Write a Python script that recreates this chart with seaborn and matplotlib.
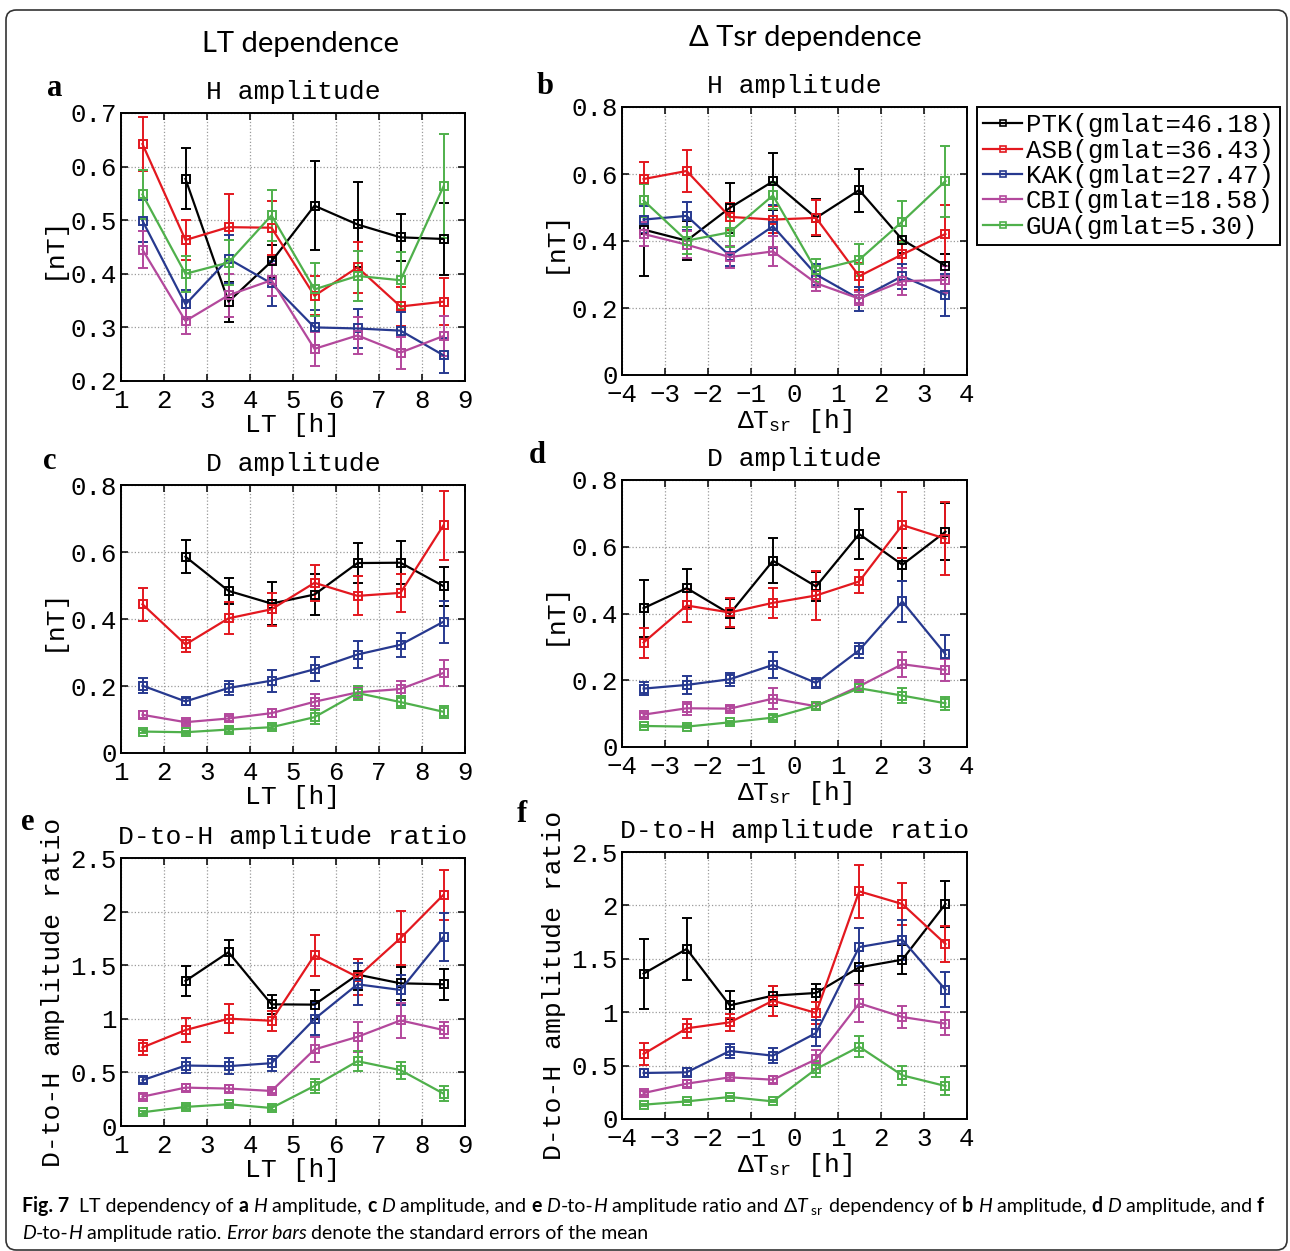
"""
Fig. 7: LT and Delta-Tsr dependence of H / D amplitudes and D-to-H ratio
at five stations (values read from the published figure).
"""
import matplotlib
matplotlib.use("Agg")
import matplotlib.pyplot as plt
from matplotlib.lines import Line2D
from matplotlib.patches import FancyBboxPatch
import numpy as np
import pandas as pd
import seaborn as sns

STATIONS = ["PTK", "ASB", "KAK", "CBI", "GUA"]
GMLAT = ["46.18", "36.43", "27.47", "18.58", "5.30"]
COLORS = ["#000000", "#e3181f", "#27398f", "#b3489c", "#4fb04b"]

LT = [1.5, 2.5, 3.5, 4.5, 5.5, 6.5, 7.5, 8.5]
DT = [-3.5, -2.5, -1.5, -0.5, 0.5, 1.5, 2.5, 3.5]
NA = np.nan

# a: H amplitude vs LT
H_LT = [[NA, 0.577, 0.348, 0.423, 0.527, 0.492, 0.468, 0.465],
        [0.642, 0.463, 0.487, 0.486, 0.359, 0.412, 0.339, 0.348],
        [0.499, 0.343, 0.428, 0.382, 0.300, 0.298, 0.294, 0.248],
        [0.445, 0.312, 0.360, 0.388, 0.260, 0.285, 0.253, 0.284],
        [0.548, 0.400, 0.421, 0.509, 0.371, 0.396, 0.388, 0.563]]
H_LT_ERR = [[NA, 0.057, 0.037, 0.030, 0.083, 0.080, 0.044, 0.067],
            [0.050, 0.037, 0.062, 0.050, 0.036, 0.048, 0.037, 0.044],
            [0.039, 0.027, 0.045, 0.042, 0.032, 0.037, 0.035, 0.033],
            [0.035, 0.024, 0.040, 0.030, 0.032, 0.034, 0.030, 0.038],
            [0.046, 0.034, 0.042, 0.048, 0.050, 0.047, 0.053, 0.097]]

# b: H amplitude vs dTsr
H_DT = [[0.434, 0.401, 0.499, 0.578, 0.469, 0.552, 0.404, 0.326],
        [0.585, 0.609, 0.472, 0.464, 0.469, 0.295, 0.360, 0.421],
        [0.464, 0.475, 0.356, 0.444, 0.300, 0.227, 0.295, 0.239],
        [0.421, 0.389, 0.352, 0.369, 0.274, 0.228, 0.280, 0.284],
        [0.521, 0.401, 0.426, 0.536, 0.312, 0.344, 0.458, 0.579]]
H_DT_ERR = [[0.137, 0.058, 0.074, 0.085, 0.055, 0.064, 0.040, 0.034],
            [0.052, 0.062, 0.040, 0.040, 0.052, 0.040, 0.040, 0.085],
            [0.040, 0.042, 0.030, 0.064, 0.030, 0.035, 0.037, 0.062],
            [0.035, 0.040, 0.033, 0.045, 0.022, 0.020, 0.040, 0.040],
            [0.050, 0.040, 0.045, 0.040, 0.034, 0.048, 0.060, 0.106]]

# c: D amplitude vs LT
D_LT = [[NA, 0.586, 0.484, 0.446, 0.473, 0.567, 0.568, 0.498],
        [0.444, 0.324, 0.402, 0.429, 0.508, 0.469, 0.478, 0.680],
        [0.201, 0.154, 0.194, 0.216, 0.250, 0.294, 0.323, 0.392],
        [0.114, 0.092, 0.103, 0.119, 0.153, 0.181, 0.191, 0.239],
        [0.064, 0.062, 0.070, 0.077, 0.107, 0.179, 0.152, 0.123]]
D_LT_ERR = [[NA, 0.050, 0.038, 0.065, 0.062, 0.060, 0.064, 0.058],
            [0.050, 0.022, 0.048, 0.050, 0.054, 0.058, 0.057, 0.103],
            [0.023, 0.010, 0.022, 0.033, 0.036, 0.041, 0.036, 0.063],
            [0.010, 0.006, 0.008, 0.012, 0.023, 0.020, 0.025, 0.038],
            [0.005, 0.005, 0.006, 0.006, 0.020, 0.020, 0.018, 0.018]]

# d: D amplitude vs dTsr
D_DT = [[0.416, 0.476, 0.399, 0.558, 0.481, 0.638, 0.546, 0.645],
        [0.313, 0.424, 0.403, 0.432, 0.454, 0.496, 0.665, 0.624],
        [0.175, 0.186, 0.203, 0.246, 0.192, 0.290, 0.436, 0.278],
        [0.097, 0.116, 0.115, 0.145, 0.122, 0.182, 0.248, 0.231],
        [0.063, 0.061, 0.074, 0.088, 0.124, 0.176, 0.154, 0.131]]
D_DT_ERR = [[0.085, 0.058, 0.043, 0.068, 0.044, 0.074, 0.050, 0.085],
            [0.045, 0.050, 0.044, 0.044, 0.072, 0.035, 0.100, 0.109],
            [0.020, 0.026, 0.020, 0.040, 0.015, 0.022, 0.060, 0.059],
            [0.006, 0.019, 0.008, 0.032, 0.010, 0.018, 0.038, 0.034],
            [0.004, 0.004, 0.005, 0.008, 0.010, 0.012, 0.022, 0.019]]

# e: D-to-H ratio vs LT
R_LT = [[NA, 1.353, 1.621, 1.135, 1.132, 1.412, 1.331, 1.322],
        [0.733, 0.895, 1.001, 0.982, 1.593, 1.390, 1.752, 2.157],
        [0.427, 0.564, 0.558, 0.586, 0.998, 1.322, 1.269, 1.764],
        [0.274, 0.358, 0.349, 0.327, 0.714, 0.832, 0.985, 0.895],
        [0.128, 0.178, 0.203, 0.168, 0.374, 0.605, 0.521, 0.302]]
R_LT_ERR = [[NA, 0.143, 0.118, 0.087, 0.134, 0.147, 0.156, 0.146],
            [0.068, 0.109, 0.134, 0.093, 0.190, 0.170, 0.250, 0.234],
            [0.030, 0.070, 0.072, 0.069, 0.150, 0.196, 0.140, 0.222],
            [0.020, 0.030, 0.030, 0.020, 0.118, 0.141, 0.165, 0.078],
            [0.015, 0.015, 0.015, 0.015, 0.066, 0.096, 0.078, 0.072]]

# f: D-to-H ratio vs dTsr
R_DT = [[1.361, 1.592, 1.064, 1.155, 1.180, 1.420, 1.492, 2.013],
        [0.609, 0.849, 0.905, 1.108, 0.993, 2.132, 2.013, 1.639],
        [0.431, 0.437, 0.637, 0.593, 0.805, 1.610, 1.679, 1.211],
        [0.243, 0.331, 0.390, 0.368, 0.559, 1.083, 0.955, 0.893],
        [0.134, 0.165, 0.206, 0.165, 0.468, 0.677, 0.409, 0.309]]
R_DT_ERR = [[0.328, 0.290, 0.131, 0.093, 0.087, 0.153, 0.134, 0.219],
            [0.106, 0.090, 0.078, 0.140, 0.100, 0.250, 0.197, 0.171],
            [0.040, 0.040, 0.068, 0.069, 0.120, 0.178, 0.187, 0.162],
            [0.020, 0.030, 0.025, 0.030, 0.090, 0.175, 0.100, 0.109],
            [0.010, 0.010, 0.010, 0.010, 0.072, 0.097, 0.087, 0.081]]

MONO = "Liberation Mono"
plt.rcParams["mathtext.fontset"] = "custom"
plt.rcParams["mathtext.rm"] = "Lato"
plt.rcParams["mathtext.it"] = "Lato:italic"
plt.rcParams["mathtext.bf"] = "Lato:bold"
plt.rcParams["mathtext.tt"] = MONO

W, H = 1290, 1251
fig = plt.figure(figsize=(W / 100, H / 100), dpi=100)
fig.patch.set_facecolor("white")


def px_rect(l, t, r, b):
    return [l / W, 1 - b / H, (r - l) / W, (b - t) / H]


def fmt_tick(v):
    return f"{v:g}".replace("-", "\u2212")


def panel(rect, xs, vals, errs, xlim, ylim, yticks, title, xlabel, ylabel):
    ax = fig.add_axes(px_rect(*rect))
    rows = []
    for st, yv, ev in zip(STATIONS, vals, errs):
        for x, y, e in zip(xs, yv, ev):
            if not np.isnan(y):
                rows.append({"station": st, "x": x, "y": y, "err": e})
    df = pd.DataFrame(rows)

    sns.lineplot(data=df, x="x", y="y", hue="station", hue_order=STATIONS,
                 palette=COLORS, marker="s", markersize=5.5, linewidth=1.6,
                 estimator=None, sort=False, legend=False, ax=ax, zorder=3)
    for line in ax.lines:
        line.set_markeredgecolor(line.get_color())
        line.set_markerfacecolor("none")
        line.set_markeredgewidth(1.4)

    for i, st in enumerate(STATIONS):
        sub = df[df["station"] == st]
        ax.errorbar(sub["x"], sub["y"], yerr=sub["err"], fmt="none",
                    ecolor=COLORS[i], elinewidth=1.4, capsize=3.5,
                    capthick=1.4, zorder=2)

    ax.set_xlim(*xlim)
    ax.set_ylim(*ylim)
    xt = np.arange(xlim[0], xlim[1] + 1, 1)
    ax.set_xticks(xt)
    ax.set_xticklabels([fmt_tick(v) for v in xt])
    ax.set_yticks(yticks)
    ax.set_yticklabels([fmt_tick(v) for v in yticks])
    for lab in ax.get_xticklabels() + ax.get_yticklabels():
        lab.set_fontfamily(MONO)
        lab.set_fontsize(18.5)
    ax.tick_params(direction="in", top=True, right=True, length=5, width=1.1)
    ax.tick_params(axis="x", pad=6)
    ax.tick_params(axis="y", pad=3)
    ax.grid(True, ls=":", color="#9a9a9a", lw=0.9)
    ax.set_axisbelow(True)
    for sp in ax.spines.values():
        sp.set_linewidth(1.4)
        sp.set_color("black")
    ax.set_title(title, fontfamily=MONO, fontsize=19, pad=10)
    ax.set_xlabel(xlabel, fontfamily=MONO, fontsize=19, labelpad=0)
    ax.set_ylabel(ylabel, fontfamily=MONO, fontsize=19, labelpad=4)
    return ax


LT_LIM = (1, 9)
DT_LIM = (-4, 4)
DT_LABEL = "\u0394T$_{\\mathtt{sr}}$ [h]"

panel((121, 113, 465, 381), LT, H_LT, H_LT_ERR, LT_LIM, (0.2, 0.7),
      [0.2, 0.3, 0.4, 0.5, 0.6, 0.7], "H amplitude", "LT [h]", "[nT]")
panel((622, 107, 967, 375), DT, H_DT, H_DT_ERR, DT_LIM, (0, 0.8),
      [0, 0.2, 0.4, 0.6, 0.8], "H amplitude", DT_LABEL, "[nT]")
panel((121, 485, 465, 753), LT, D_LT, D_LT_ERR, LT_LIM, (0, 0.8),
      [0, 0.2, 0.4, 0.6, 0.8], "D amplitude", "LT [h]", "[nT]")
panel((622, 480, 967, 747), DT, D_DT, D_DT_ERR, DT_LIM, (0, 0.8),
      [0, 0.2, 0.4, 0.6, 0.8], "D amplitude", DT_LABEL, "[nT]")
panel((121, 858, 465, 1126), LT, R_LT, R_LT_ERR, LT_LIM, (0, 2.5),
      [0, 0.5, 1, 1.5, 2, 2.5], "D-to-H amplitude ratio", "LT [h]",
      "D-to-H amplitude ratio")
panel((622, 852, 967, 1119), DT, R_DT, R_DT_ERR, DT_LIM, (0, 2.5),
      [0, 0.5, 1, 1.5, 2, 2.5], "D-to-H amplitude ratio", DT_LABEL,
      "D-to-H amplitude ratio")

# legend to the right of panel b
handles = [Line2D([], [], color=c, lw=1.6, marker="s", ms=4, mfc="none",
                  mec=c, mew=1.2) for c in COLORS]
labels = [f"{s}(gmlat={g})" for s, g in zip(STATIONS, GMLAT)]
leg = fig.legend(handles, labels, loc="upper left",
                 bbox_to_anchor=(977 / W, 1 - 107 / H), borderaxespad=0,
                 frameon=True, fancybox=False, edgecolor="black",
                 framealpha=1, prop={"family": MONO, "size": 18.5},
                 handlelength=1.5, handletextpad=0.15, labelspacing=0.05,
                 borderpad=0.25)
leg.get_frame().set_linewidth(1.4)

# column headers and panel letters
fig.text(300 / W, 1 - 44 / H, "LT dependence", family="Lato", fontsize=21,
         ha="center", va="center")
fig.text(805 / W, 1 - 38 / H, "\u0394 Tsr dependence", family="Lato",
         fontsize=21, ha="center", va="center")
for letter, (x, y) in zip("abcdef", [(55, 88), (545, 86), (50, 462),
                                     (537, 456), (28, 822), (522, 815)]):
    fig.text(x / W, 1 - y / H, letter, family="Liberation Serif",
             fontweight="bold", fontsize=22, ha="center", va="center")

# caption, drawn piece by piece so bold / italic words can be mixed
CAP1 = [("Fig. 7", "bold"), ("  LT dependency of ", "n"), ("a", "bold"),
        (" ", "n"), ("H", "it"), (" amplitude, ", "n"), ("c", "bold"),
        (" ", "n"), ("D", "it"), (" amplitude, and ", "n"), ("e", "bold"),
        (" ", "n"), ("D", "it"), ("-to-", "n"), ("H", "it"),
        (" amplitude ratio and ", "n"), ("\u0394", "n"), ("T", "it"),
        (r"$_{\rm sr}$", "n"), (" dependency of ", "n"), ("b", "bold"),
        (" ", "n"), ("H", "it"), (" amplitude, ", "n"), ("d", "bold"),
        (" ", "n"), ("D", "it"), (" amplitude, and ", "n"), ("f", "bold")]
CAP2 = [("D", "it"), ("-to-", "n"), ("H", "it"),
        (" amplitude ratio. ", "n"), ("Error bars", "it"),
        (" denote the standard errors of the mean", "n")]

renderer = fig.canvas.get_renderer()


def style_kw(kind, size):
    kw = {"family": "Lato", "fontsize": size}
    if kind == "bold":
        kw["fontweight"] = "bold"
    elif kind == "it":
        kw["fontstyle"] = "italic"
    return kw


def piece_width(txt, kind, size):
    t = fig.text(0, 0, txt.replace(" ", "\u00a0"), **style_kw(kind, size))
    w = t.get_window_extent(renderer).width
    t.remove()
    return w


def draw_line(pieces, x0, y, size):
    x = x0
    for txt, kind in pieces:
        fig.text(x / W, 1 - y / H, txt.replace(" ", "\u00a0"), va="baseline",
                 **style_kw(kind, size))
        x += piece_width(txt, kind, size)


base = 15
total = sum(piece_width(t, k, base) for t, k in CAP1)
cap_size = base * (1268 - 22) / total
draw_line(CAP1, 22, 1212, cap_size)
draw_line(CAP2, 22, 1239, cap_size)

# rounded frame around the whole figure
frame = FancyBboxPatch((6 / W, 1 / H), (1287 - 6) / W, (1241 - 1) / H,
                       boxstyle="round,pad=0,rounding_size=0.008",
                       transform=fig.transFigure, fill=False,
                       edgecolor="#333333", lw=1.2)
fig.patches.append(frame)

fig.savefig("out.png", dpi=100, facecolor="white")
plt.close(fig)
